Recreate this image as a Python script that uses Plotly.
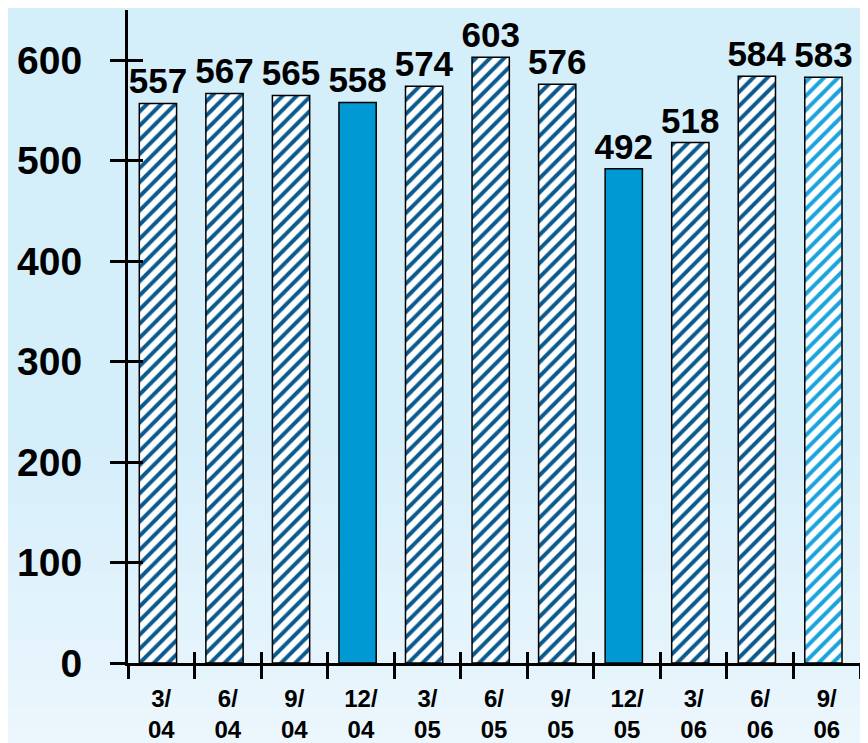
import plotly.graph_objects as go

# data
periods = ["3/<br>04", "6/<br>04", "9/<br>04", "12/<br>04", "3/<br>05", "6/<br>05",
           "9/<br>05", "12/<br>05", "3/<br>06", "6/<br>06", "9/<br>06"]
values = [557, 567, 565, 558, 574, 603, 576, 492, 518, 584, 583]
y_ticks = [0, 100, 200, 300, 400, 500, 600]

# year-end quarters are solid, the latest quarter is a lighter hatch
DARK = "#0b5a8e"
SOLID = "#0099d4"
LIGHT = "#1aa3dc"
FONT = "Liberation Sans, Arial"


def pick(cond):
    return [v if cond(i, p) else None for i, (p, v) in enumerate(zip(periods, values))]


groups = [
    (pick(lambda i, p: not p.startswith("12/") and i < len(periods) - 1), "/", DARK, "white"),
    (pick(lambda i, p: p.startswith("12/")), "", None, SOLID),
    (pick(lambda i, p: i == len(periods) - 1), "/", LIGHT, "white"),
]

fig = go.Figure()
for ys, shape, fg, bg in groups:
    pattern = dict(shape=shape, fgcolor=fg, bgcolor=bg, fgopacity=1, size=10, solidity=0.4) \
        if shape else dict(shape="")
    fig.add_trace(go.Bar(
        x=periods,
        y=ys,
        width=0.56,
        offset=-0.33,
        text=[str(v) if v is not None else "" for v in ys],
        textposition="outside",
        constraintext="none",
        cliponaxis=False,
        textfont=dict(size=35, color="black", family=FONT, weight="bold"),
        marker=dict(color=bg, line=dict(color="black", width=1.5), pattern=pattern),
        showlegend=False,
    ))

# invisible points so the overlay axes (inner half of the ticks) get drawn
fig.add_trace(go.Scatter(x=periods, y=values, xaxis="x2", yaxis="y2", mode="markers",
                         marker=dict(opacity=0), hoverinfo="skip", showlegend=False))

# light fade towards the bottom of the page
bg_top = (212, 238, 250)
bg_bottom = (236, 247, 253)
steps = 14
shapes = []
y0 = 0.35
y_end = -90 / 653
for i in range(steps):
    t = (i + 1) / steps
    c = tuple(int(a + (b - a) * t) for a, b in zip(bg_top, bg_bottom))
    ya = y0 - (y0 - y_end) * i / steps
    yb = y0 - (y0 - y_end) * (i + 1) / steps
    shapes.append(dict(type="rect", xref="paper", yref="paper", x0=-0.2, x1=1.02,
                       y0=yb - 0.002, y1=ya, line_width=0, layer="below",
                       fillcolor="rgb(%d,%d,%d)" % c))

axis_font = dict(family=FONT, color="black", weight="bold")
x_range = [-0.5, len(periods) - 0.5]

# the page body adds an 8px offset, so the figure is 8px smaller than the window
fig.update_layout(
    width=860, height=735,
    margin=dict(l=120, r=8, t=2, b=80),
    paper_bgcolor="rgb(212,238,250)",
    plot_bgcolor="rgba(0,0,0,0)",
    barmode="overlay",
    shapes=shapes,
    xaxis=dict(
        type="category", automargin=False, range=x_range,
        showline=True, linecolor="black", linewidth=3,
        ticks="outside", tickson="boundaries", ticklen=13, tickwidth=3, tickcolor="black",
        showgrid=False,
        tickfont=dict(size=24, **axis_font),
        ticklabelstandoff=12,
    ),
    yaxis=dict(
        range=[0, 650], automargin=False,
        tickvals=y_ticks,
        showline=True, linecolor="black", linewidth=3,
        ticks="outside", ticklen=15, tickwidth=3, tickcolor="black",
        showgrid=False, zeroline=False,
        tickfont=dict(size=39, **axis_font),
        ticklabelstandoff=20,
    ),
    xaxis2=dict(
        type="category", overlaying="x", side="bottom", automargin=False, range=x_range,
        ticks="inside", tickson="boundaries", ticklen=11, tickwidth=3, tickcolor="black",
        showticklabels=False, showgrid=False, showline=False,
    ),
    yaxis2=dict(
        overlaying="y", side="left", automargin=False, range=[0, 650],
        tickvals=y_ticks, ticks="inside", ticklen=15, tickwidth=3, tickcolor="black",
        showticklabels=False, showgrid=False, showline=False, zeroline=False,
    ),
)

fig.write_html("out.html")
